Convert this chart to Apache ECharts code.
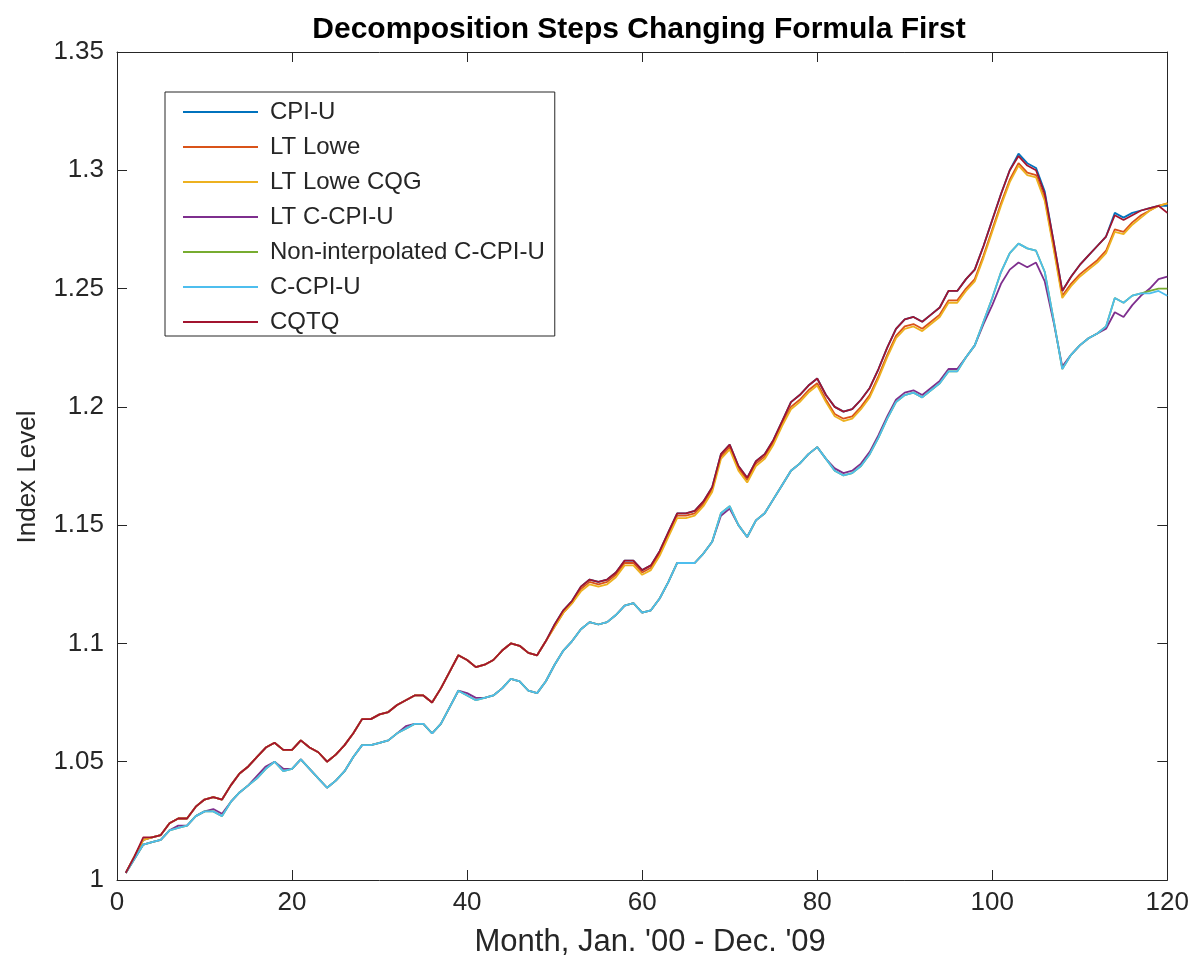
<!DOCTYPE html>
<html>
<head>
<meta charset="utf-8">
<script src="https://cdn.jsdelivr.net/npm/echarts@6/dist/echarts.min.js"></script>
<style>
html,body{margin:0;padding:0;background:#fff;}
#chart{width:1192px;height:965px;}
</style>
</head>
<body>
<div id="chart"></div>
<script>
// Month index 1..120 (Jan. 2000 - Dec. 2009)
const months = Array.from({length:120}, (_, i) => i + 1);

const seriesNames = ['CPI-U','LT Lowe','LT Lowe CQG','LT C-CPI-U','Non-interpolated C-CPI-U','C-CPI-U','CQTQ'];

const cpiU = [
1.003,1.010,1.017,1.018,1.019,1.024,1.026,1.026,1.031,1.034,
1.035,1.034,1.040,1.045,1.048,1.052,1.056,1.058,1.055,1.055,
1.059,1.056,1.054,1.050,1.053,1.057,1.062,1.068,1.068,1.070,
1.071,1.074,1.076,1.078,1.078,1.075,1.081,1.088,1.095,1.093,
1.090,1.091,1.093,1.097,1.100,1.099,1.096,1.095,1.101,1.108,
1.114,1.118,1.124,1.127,1.126,1.127,1.130,1.135,1.135,1.131,
1.133,1.139,1.147,1.155,1.155,1.156,1.160,1.166,1.180,1.184,
1.175,1.170,1.177,1.180,1.186,1.194,1.202,1.205,1.209,1.212,
1.205,1.200,1.198,1.199,1.203,1.208,1.216,1.225,1.233,1.237,
1.238,1.236,1.239,1.242,1.249,1.249,1.254,1.258,1.268,1.279,
1.290,1.300,1.307,1.303,1.301,1.291,1.270,1.249,1.255,1.260,
1.264,1.268,1.272,1.282,1.280,1.282,1.283,1.284,1.285,1.285];

const ltLowe = [
1.003,1.010,1.017,1.018,1.019,1.024,1.026,1.026,1.031,1.034,
1.035,1.034,1.040,1.045,1.048,1.052,1.056,1.058,1.055,1.055,
1.059,1.056,1.054,1.050,1.053,1.057,1.062,1.068,1.068,1.070,
1.071,1.074,1.076,1.078,1.078,1.075,1.081,1.088,1.095,1.093,
1.090,1.091,1.093,1.097,1.100,1.099,1.096,1.095,1.101,1.107,
1.113,1.117,1.123,1.126,1.125,1.126,1.129,1.134,1.134,1.130,
1.132,1.138,1.146,1.154,1.154,1.155,1.159,1.165,1.179,1.183,
1.174,1.169,1.176,1.179,1.185,1.193,1.200,1.203,1.207,1.210,
1.203,1.197,1.195,1.196,1.200,1.205,1.213,1.222,1.230,1.234,
1.235,1.233,1.236,1.239,1.245,1.245,1.250,1.254,1.264,1.275,
1.286,1.296,1.303,1.299,1.298,1.288,1.268,1.247,1.252,1.256,
1.259,1.262,1.266,1.275,1.274,1.278,1.281,1.283,1.285,1.286];

const ltLoweCQG = [
1.003,1.010,1.017,1.018,1.019,1.024,1.026,1.026,1.031,1.034,
1.035,1.034,1.040,1.045,1.048,1.052,1.056,1.058,1.055,1.055,
1.059,1.056,1.054,1.050,1.053,1.057,1.062,1.068,1.068,1.070,
1.071,1.074,1.076,1.078,1.078,1.075,1.081,1.088,1.095,1.093,
1.090,1.091,1.093,1.097,1.100,1.099,1.096,1.095,1.101,1.107,
1.113,1.117,1.122,1.125,1.124,1.125,1.128,1.133,1.133,1.129,
1.131,1.137,1.145,1.153,1.153,1.154,1.158,1.164,1.178,1.182,
1.173,1.168,1.175,1.178,1.184,1.192,1.199,1.202,1.206,1.209,
1.202,1.196,1.194,1.195,1.199,1.204,1.212,1.221,1.229,1.233,
1.234,1.232,1.235,1.238,1.244,1.244,1.249,1.253,1.263,1.274,
1.285,1.295,1.302,1.298,1.297,1.287,1.267,1.246,1.251,1.255,
1.258,1.261,1.265,1.274,1.273,1.277,1.280,1.283,1.285,1.286];

const ltCCPIU = [
1.003,1.009,1.015,1.016,1.017,1.021,1.023,1.023,1.027,1.029,
1.030,1.028,1.033,1.037,1.040,1.044,1.048,1.050,1.047,1.047,
1.051,1.047,1.043,1.039,1.042,1.046,1.052,1.057,1.057,1.058,
1.059,1.062,1.065,1.066,1.066,1.062,1.066,1.073,1.080,1.079,
1.077,1.077,1.078,1.081,1.085,1.084,1.080,1.079,1.084,1.091,
1.097,1.101,1.106,1.109,1.108,1.109,1.112,1.116,1.117,1.113,
1.114,1.119,1.126,1.134,1.134,1.134,1.138,1.143,1.154,1.157,
1.150,1.145,1.152,1.155,1.161,1.167,1.173,1.176,1.180,1.183,
1.178,1.174,1.172,1.173,1.176,1.181,1.188,1.196,1.203,1.206,
1.207,1.205,1.208,1.211,1.216,1.216,1.221,1.226,1.235,1.243,
1.252,1.258,1.261,1.259,1.261,1.253,1.236,1.217,1.222,1.226,
1.229,1.231,1.233,1.240,1.238,1.243,1.247,1.250,1.254,1.255];

const nonInterpCCPIU = [
1.003,1.009,1.015,1.016,1.017,1.021,1.022,1.023,1.027,1.029,
1.029,1.027,1.033,1.037,1.040,1.043,1.047,1.050,1.046,1.047,
1.051,1.047,1.043,1.039,1.042,1.046,1.052,1.057,1.057,1.058,
1.059,1.062,1.064,1.066,1.066,1.062,1.066,1.073,1.080,1.078,
1.076,1.077,1.078,1.081,1.085,1.084,1.080,1.079,1.084,1.091,
1.097,1.101,1.106,1.109,1.108,1.109,1.112,1.116,1.117,1.113,
1.114,1.119,1.126,1.134,1.134,1.134,1.138,1.143,1.155,1.158,
1.150,1.145,1.152,1.155,1.161,1.167,1.173,1.176,1.180,1.183,
1.178,1.173,1.171,1.172,1.175,1.180,1.187,1.195,1.202,1.205,
1.206,1.204,1.207,1.210,1.215,1.215,1.221,1.226,1.236,1.246,
1.257,1.265,1.269,1.267,1.266,1.257,1.237,1.216,1.222,1.226,
1.229,1.231,1.234,1.246,1.244,1.247,1.248,1.249,1.250,1.250];

const cCPIU = [
1.003,1.009,1.015,1.016,1.017,1.021,1.022,1.023,1.027,1.029,
1.029,1.027,1.033,1.037,1.040,1.043,1.047,1.050,1.046,1.047,
1.051,1.047,1.043,1.039,1.042,1.046,1.052,1.057,1.057,1.058,
1.059,1.062,1.064,1.066,1.066,1.062,1.066,1.073,1.080,1.078,
1.076,1.077,1.078,1.081,1.085,1.084,1.080,1.079,1.084,1.091,
1.097,1.101,1.106,1.109,1.108,1.109,1.112,1.116,1.117,1.113,
1.114,1.119,1.126,1.134,1.134,1.134,1.138,1.143,1.155,1.158,
1.150,1.145,1.152,1.155,1.161,1.167,1.173,1.176,1.180,1.183,
1.178,1.173,1.171,1.172,1.175,1.180,1.187,1.195,1.202,1.205,
1.206,1.204,1.207,1.210,1.215,1.215,1.221,1.226,1.236,1.246,
1.257,1.265,1.269,1.267,1.266,1.257,1.237,1.216,1.222,1.226,
1.229,1.231,1.234,1.246,1.244,1.247,1.248,1.248,1.249,1.247];

const cqtq = [
1.003,1.010,1.018,1.018,1.019,1.024,1.026,1.026,1.031,1.034,
1.035,1.034,1.040,1.045,1.048,1.052,1.056,1.058,1.055,1.055,
1.059,1.056,1.054,1.050,1.053,1.057,1.062,1.068,1.068,1.070,
1.071,1.074,1.076,1.078,1.078,1.075,1.081,1.088,1.095,1.093,
1.090,1.091,1.093,1.097,1.100,1.099,1.096,1.095,1.101,1.108,
1.114,1.118,1.124,1.127,1.126,1.127,1.130,1.135,1.135,1.131,
1.133,1.139,1.147,1.155,1.155,1.156,1.160,1.166,1.180,1.184,
1.175,1.170,1.177,1.180,1.186,1.194,1.202,1.205,1.209,1.212,
1.205,1.200,1.198,1.199,1.203,1.208,1.216,1.225,1.233,1.237,
1.238,1.236,1.239,1.242,1.249,1.249,1.254,1.258,1.268,1.279,
1.290,1.300,1.306,1.302,1.300,1.290,1.270,1.249,1.255,1.260,
1.264,1.268,1.272,1.281,1.279,1.281,1.283,1.284,1.285,1.282];

const seriesValues = [cpiU, ltLowe, ltLoweCQG, ltCCPIU, nonInterpCCPIU, cCPIU, cqtq];
const colors = ['#0072BD','#D95319','#EDB120','#7E2F8E','#77AC30','#4DBEEE','#A2142F'];

const xTicks = [0, 20, 40, 60, 80, 100, 120];
const yTicks = [1, 1.05, 1.1, 1.15, 1.2, 1.25, 1.3, 1.35];

const titleText = 'Decomposition Steps Changing Formula First';
const xName = "Month, Jan. '00 - Dec. '09";
const yName = 'Index Level';

const FONT = '"Liberation Sans", Arial, Helvetica, sans-serif';
const axisColor = '#262626';

const chart = echarts.init(document.getElementById('chart'), null, {renderer: 'canvas'});

const gridBox = {left: 117, right: 24, top: 52, bottom: 85};

function baseX(pos, show) {
  return {
    type: 'value', position: pos, min: xTicks[0], max: xTicks[xTicks.length - 1], interval: xTicks[1] - xTicks[0],
    axisLine: {show: true, onZero: false, lineStyle: {color: axisColor, width: 1}},
    axisTick: {show: true, inside: true, length: 10, lineStyle: {color: axisColor, width: 1}},
    axisLabel: {show: show, color: axisColor, fontSize: 26, fontFamily: FONT, margin: 10},
    splitLine: {show: false}
  };
}
function baseY(pos, show) {
  return {
    type: 'value', position: pos, min: yTicks[0], max: yTicks[yTicks.length - 1], interval: 0.05,
    axisLine: {show: true, onZero: false, lineStyle: {color: axisColor, width: 1}},
    axisTick: {show: true, inside: true, length: 10, lineStyle: {color: axisColor, width: 1}},
    axisLabel: {show: show, color: axisColor, fontSize: 26, fontFamily: FONT, margin: 13,
      formatter: v => String(parseFloat(v.toFixed(2)))},
    splitLine: {show: false}
  };
}

const xBottom = baseX('bottom', true);
xBottom.name = xName;
xBottom.nameLocation = 'middle';
xBottom.nameGap = 47;
xBottom.nameTextStyle = {color: axisColor, fontSize: 31, fontFamily: FONT, padding: [0, 0, 0, 16]};
const xTop = baseX('top', false);

const yLeft = baseY('left', true);
yLeft.name = yName;
yLeft.nameLocation = 'middle';
yLeft.nameGap = 76;
yLeft.nameTextStyle = {color: axisColor, fontSize: 26, fontFamily: FONT, padding: [0, 22, 0, 0]};
const yRight = baseY('right', false);

const option = {
  backgroundColor: '#ffffff',
  animation: false,
  color: colors,
  title: {
    text: titleText, left: 639, textAlign: 'center', top: 15, padding: 0,
    textStyle: {fontSize: 30, fontWeight: 'bold', color: '#000', fontFamily: FONT}
  },
  grid: gridBox,
  xAxis: [xBottom, xTop],
  yAxis: [yLeft, yRight],
  legend: {
    orient: 'vertical', left: 165, top: 92,
    backgroundColor: '#fff', borderColor: axisColor, borderWidth: 1,
    padding: [8, 10, 2, 18],
    itemWidth: 75, itemHeight: 2, itemGap: 11, icon: 'rect',
    textStyle: {fontSize: 24, fontFamily: FONT, color: axisColor, lineHeight: 24, padding: [0, 0, 0, 7]},
    data: seriesNames
  },
  series: seriesNames.map((name, i) => ({
    name: name, type: 'line', xAxisIndex: 0, yAxisIndex: 0,
    showSymbol: false, symbol: 'none',
    lineStyle: {width: 1.8, color: colors[i]},
    itemStyle: {color: colors[i]},
    data: months.map((m, j) => [m, seriesValues[i][j]])
  }))
};

chart.setOption(option);
</script>
</body>
</html>
